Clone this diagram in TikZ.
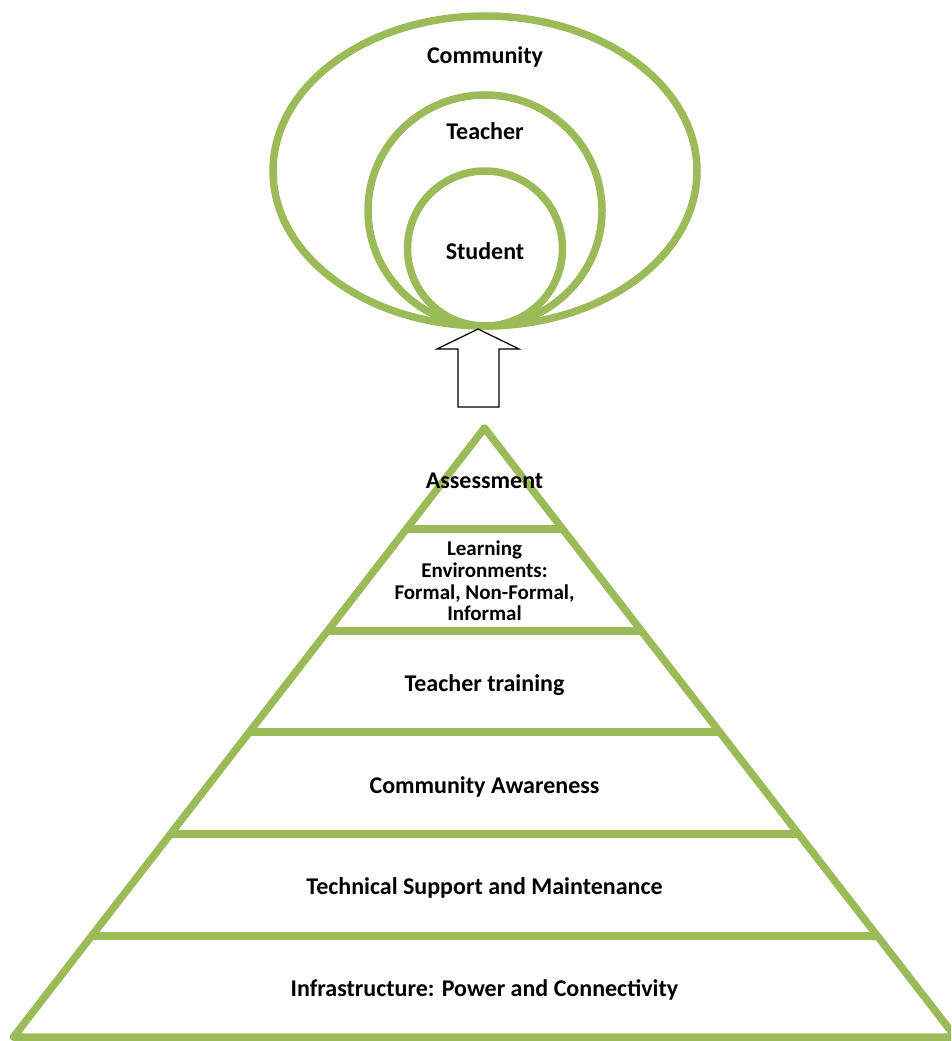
\documentclass[tikz,border=0pt]{standalone}
\usepackage{fontspec}
\setmainfont{Carlito}
\usetikzlibrary{calc}
\definecolor{olive}{HTML}{9BBB59}
\tikzset{
  ring/.style={draw=olive, line width=7.5pt, fill=white},
  lbl/.style={font=\fontsize{24}{26}\selectfont\bfseries, text=black, inner sep=0pt, align=center},
  smalllbl/.style={font=\fontsize{21}{21.8}\selectfont\bfseries, text=black, inner sep=0pt, align=center},
  pyr/.style={draw=olive, line width=7.5pt, line join=round},
  bigarrow/.style={draw=black, line width=1.2pt, fill=white, line join=miter}
}
\begin{document}
\begin{tikzpicture}[x=1pt,y=-1pt]
\useasboundingbox (0,0) rectangle (951,1041);
\clip (0,0) rectangle (951,1041);
% nested ellipses
\draw[ring] (485,171) ellipse [x radius=212, y radius=155];
\draw[ring] (485,210.5) ellipse [x radius=117, y radius=115.5];
\draw[ring] (485,248.5) ellipse [x radius=77.5, y radius=77.5];
\node[lbl] (community) at (485,57) {Community};
\node[lbl] (teacher) at (485,131) {Teacher};
\node[lbl] (student) at (485,251) {Student};
% block arrow
\draw[bigarrow] (458,407) -- (458,349) -- (437,349) -- (478,329) -- (519,349) -- (499,349) -- (499,407) -- cycle;
% pyramid
\coordinate (apex) at (484.5,428);
\coordinate (bl) at (13.5,1037);
\coordinate (br) at (955.5,1037);
\draw[pyr] (apex) -- (bl) -- (br) -- cycle;
\foreach \t in {0.16585,0.33333,0.49918,0.66667,0.83415}{
  \draw[draw=olive, line width=7.5pt] ($(apex)!\t!(bl)$) -- ($(apex)!\t!(br)$);
}
\node[lbl] (assess) at (484.5,481) {Assessment};
\node[smalllbl] (learn) at (484.5,581) {Learning\\Environments:\\Formal, Non-Formal,\\Informal};
\node[lbl] (ttrain) at (484.5,685.5) {Teacher training};
\node[lbl] (caware) at (484.5,786.5) {Community Awareness};
\node[lbl] (tech) at (484.5,887.5) {Technical Support and Maintenance};
\node[lbl] (infra) at (484.5,989.5) {Infrastructure: Power and Connectivity};
\end{tikzpicture}
\end{document}
